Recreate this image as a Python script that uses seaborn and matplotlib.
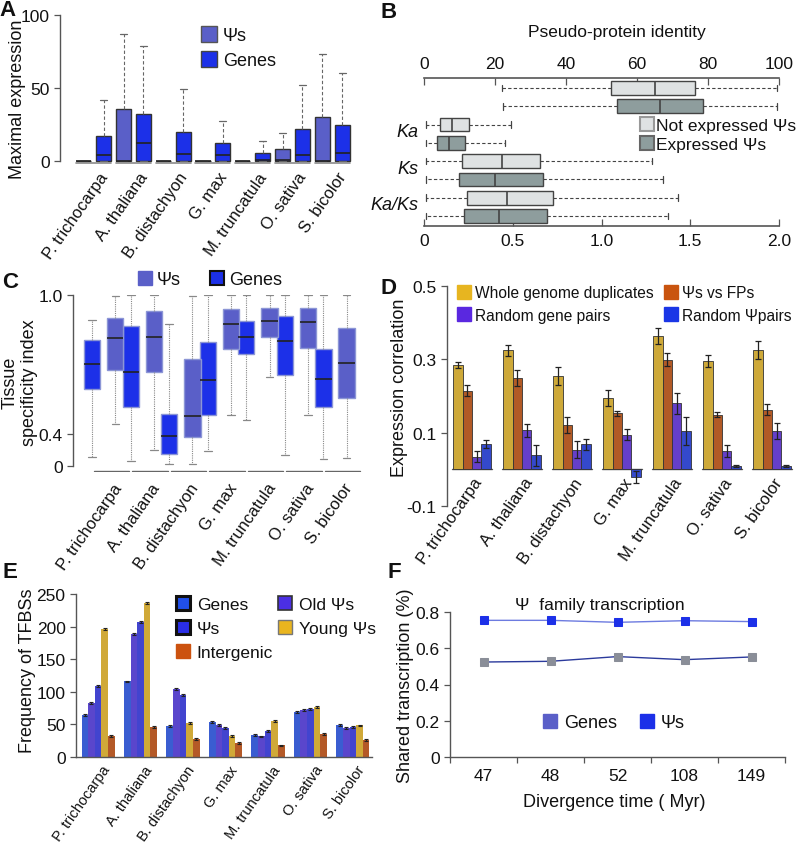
import numpy as np
import pandas as pd
import matplotlib
matplotlib.use('Agg')
import matplotlib.pyplot as plt
import matplotlib.transforms as mtransforms
from matplotlib.lines import Line2D
import seaborn as sns

species = ['P. trichocarpa', 'A. thaliana', 'B. distachyon', 'G. max',
           'M. truncatula', 'O. sativa', 'S. bicolor']

# A: maximal expression, box stats as (whislo, q1, median, q3, whishi)
a_psi = [[0, 0, 0, 0, 0], [0, 0, 0, 35.5, 87], [0, 0, 0, 0, 0], [0, 0, 0, 0, 0],
         [0, 0, 0, 0, 0], [0, 0, 0.4, 8.5, 19.5], [0, 0, 0, 30, 73]]
a_gene = [[0, 0, 4, 17, 41.5], [0, 0, 12.6, 32, 79], [0, 0, 4.6, 20, 49],
          [0, 0, 4, 12, 27.5], [0, 0, 0.5, 5.7, 13.7], [0, 0, 4, 21.7, 52.4],
          [0, 0, 5.7, 25, 60.6]]

# B: pseudo-protein identity (top scale) and Ka, Ks, Ka/Ks (bottom scale)
b_rows = ['Ka', 'Ks', 'Ka/Ks']
b_ident_not = [21.9, 52.8, 65.2, 76.3, 99.3]
b_ident_exp = [22.2, 54.5, 66.5, 78.5, 99.3]
b_not = [[0.01, 0.09, 0.16, 0.255, 0.49], [0.01, 0.214, 0.438, 0.654, 1.285],
         [0.01, 0.244, 0.466, 0.729, 1.433]]
b_exp = [[0.01, 0.073, 0.143, 0.231, 0.456], [0.01, 0.199, 0.398, 0.672, 1.348],
         [0.01, 0.227, 0.421, 0.691, 1.377]]

# C: tissue specificity index (axis as drawn in the original)
c_yticks = [0, 0.186, 1.0]
c_yticklabels = ['0', '0.4', '1.0']
c_gene = [[0.055, 0.449, 0.596, 0.736, 0.855], [0.03, 0.346, 0.547, 0.816, 1.0],
          [0.01, 0.068, 0.176, 0.303, 0.83], [0.09, 0.297, 0.504, 0.723, 1.0],
          [0.271, 0.656, 0.756, 0.846, 1.0], [0.0625, 0.535, 0.732, 0.875, 1.0],
          [0.043, 0.344, 0.506, 0.684, 1.0]]
c_psi = [[0.248, 0.561, 0.75, 0.863, 0.992], [0.094, 0.547, 0.756, 0.906, 1.0],
         [0.014, 0.17, 0.291, 0.623, 0.996], [0.297, 0.684, 0.83, 0.916, 1.0],
         [0.518, 0.756, 0.85, 0.926, 1.0], [0.297, 0.693, 0.84, 0.922, 1.0],
         [0.047, 0.4, 0.6, 0.805, 1.0]]

# D: expression correlation
d_series = ['Whole genome duplicates', 'Ψs vs FPs', 'Random gene pairs', 'Random Ψpairs']
d_wgd = [0.285, 0.325, 0.255, 0.195, 0.364, 0.295, 0.325]
d_wgd_err = [0.008, 0.015, 0.025, 0.022, 0.021, 0.016, 0.024]
d_fp = [0.215, 0.25, 0.121, 0.153, 0.299, 0.149, 0.162]
d_fp_err = [0.015, 0.022, 0.021, 0.007, 0.017, 0.007, 0.015]
d_rgp = [0.035, 0.106, 0.054, 0.095, 0.18, 0.051, 0.105]
d_rgp_err = [0.015, 0.017, 0.024, 0.015, 0.028, 0.016, 0.022]
d_rpp = [0.069, 0.038, 0.069, -0.02, 0.105, 0.009, 0.009]
d_rpp_err = [0.011, 0.029, 0.015, 0.016, 0.039, 0.003, 0.003]

# E: frequency of TFBSs
e_series = ['Genes', 'Old Ψs', 'Ψs', 'Young Ψs', 'Intergenic']
e_genes = [64.8, 115.8, 47, 54, 34, 68.9, 49.5]
e_old = [82.7, 188.8, 103.6, 49.5, 31.6, 72, 44.4]
e_psi = [109, 207.6, 95.4, 45, 39.8, 74, 46]
e_young = [196, 236.7, 52.6, 32.6, 55, 76, 48.5]
e_inter = [32.6, 45.9, 28, 21.4, 17.9, 34.7, 26.5]
e_err = [1.5, 1.5, 1.5, 1.5, 1.2, 1.5, 1.2]

# F: shared transcription
f_times = ['47', '48', '52', '108', '149']
f_genes = [0.524, 0.528, 0.554, 0.537, 0.552]
f_psi = [0.754, 0.754, 0.743, 0.752, 0.747]

PSI = '#5a5fc8'
GENE = '#1c30e8'
NOT_C = '#dfe2e3'
EXP_C = '#8e9d9d'
D_COLORS = ['#e7b520', '#c9540f', '#5a28e0', '#1a36e6']
E_COLORS = ['#2150ea', '#4b2fe3', '#2a2ee6', '#e9b51f', '#cc520f']

sns.set_theme(style='ticks')
plt.rcParams['font.family'] = ['Liberation Sans', 'DejaVu Sans']
plt.rcParams['text.color'] = '#111'

W, H = 800, 845
fig = plt.figure(figsize=(8, 8.45), dpi=100)


def rect(l, t, r, b):
    return [l / W, 1 - b / H, (r - l) / W, (b - t) / H]


def fx(x):
    return x / W


def fy(y):
    return 1 - y / H


def style(ax, left=True, bottom=True):
    for s in ['top', 'right']:
        ax.spines[s].set_visible(False)
    ax.spines['left'].set_visible(left)
    ax.spines['bottom'].set_visible(bottom)
    for s in ax.spines.values():
        s.set_color('#555')
        s.set_linewidth(1)
    ax.tick_params(colors='#555', labelcolor='#111', labelsize=12.5, length=4, width=0.9)
    ax.set_xlabel('')
    ax.set_ylabel('')


def draw_boxes(ax, rows, pos, color, edge, width, capw, wcolor, wls, orient='vertical', medc='#222'):
    stats = [dict(whislo=r[0], q1=r[1], med=r[2], q3=r[3], whishi=r[4], fliers=[]) for r in rows]
    ax.bxp(stats, positions=pos, widths=width, capwidths=capw, patch_artist=True,
           showfliers=False, manage_ticks=False, orientation=orient,
           boxprops=dict(facecolor=color, edgecolor=edge, linewidth=1),
           medianprops=dict(color=medc, linewidth=1.2),
           whiskerprops=dict(color=wcolor, linestyle=wls, linewidth=0.8),
           capprops=dict(color=wcolor, linewidth=0.9))


def sq(color, edge=None, ms=10, mew=1.0):
    return Line2D([], [], marker='s', ls='none', ms=ms, mfc=color,
                  mec=edge if edge else color, mew=mew)


def legend(handles, labels, x, y, fs, ncol=1, colsp=1.0, lsp=0.3, tpad=0.3):
    fig.legend(handles, labels, loc='upper left', bbox_to_anchor=(fx(x), fy(y)),
               ncol=ncol, frameon=False, fontsize=fs, borderpad=0, borderaxespad=0,
               handlelength=0.8, handletextpad=tpad, columnspacing=colsp, labelspacing=lsp)


def species_labels(ax, pos, pad, fs=12):
    ax.set_xticks(pos)
    ax.set_xticklabels(species, rotation=55, ha='right', rotation_mode='anchor', fontsize=fs)
    ax.tick_params(axis='x', length=0, pad=pad)


def add_errors(ax, errs, nseries, **kw):
    conts = list(ax.containers)[:nseries]
    for cont, err in zip(conts, errs):
        xs = [b.get_x() + b.get_width() / 2 for b in cont]
        ax.errorbar(xs, cont.datavalues, yerr=err, fmt='none', ecolor='#222', **kw)


pos = np.arange(len(species))

# ---------------- A ----------------
axA = fig.add_axes(rect(60, 16, 358, 166.4))
draw_boxes(axA, a_psi, pos - 0.25, PSI, '#333', 0.38, 0.18, '#666', (0, (3, 2)))
draw_boxes(axA, a_gene, pos + 0.25, GENE, '#333', 0.38, 0.18, '#666', (0, (3, 2)))
for p in pos:
    axA.plot([p - 0.44, p + 0.44], [-1.6, -1.6], color='#8a8a8a', lw=1.2)
axA.set_xlim(-0.85, 6.65)
axA.set_ylim(-3, 100)
style(axA, bottom=False)
axA.spines['left'].set_bounds(0, 100)
axA.set_yticks([0, 50, 100])
species_labels(axA, pos + 0.12, 3)
fig.text(fx(18), fy(99), 'Maximal expression', rotation=90, ha='center', va='center', fontsize=13)
legend([sq(PSI, '#555', 11), sq(GENE, '#444', 11)], ['Ψs', 'Genes'], 202, 28, 13, lsp=0.45, tpad=0.35)

# ---------------- B ----------------
axB = fig.add_axes(rect(424, 79, 779, 227))
axBt = axB.twiny()
draw_boxes(axBt, [b_ident_not], [0], NOT_C, '#444', 0.75, 0.35, '#444', (0, (3, 2)), 'horizontal', '#444')
draw_boxes(axBt, [b_ident_exp], [1], EXP_C, '#444', 0.75, 0.35, '#444', (0, (3, 2)), 'horizontal', '#444')
rows_not = np.arange(len(b_rows)) * 2 + 2
rows_exp = rows_not + 1
draw_boxes(axB, b_not, rows_not, NOT_C, '#444', 0.75, 0.35, '#444', (0, (3, 2)), 'horizontal', '#444')
draw_boxes(axB, b_exp, rows_exp, EXP_C, '#444', 0.75, 0.35, '#444', (0, (3, 2)), 'horizontal', '#444')
axB.set_xlim(0, 2)
axBt.set_xlim(0, 100)
axB.set_ylim(7.55, -0.55)
for a in (axB, axBt):
    for s in a.spines.values():
        s.set_visible(False)
        s.set_color('#555')
        s.set_linewidth(1.2)
    a.tick_params(left=False, labelleft=False, right=False, labelright=False,
                  colors='#555', labelcolor='#111', labelsize=12.5, length=5, width=0.9)
axB.spines['bottom'].set_visible(True)
axBt.spines['top'].set_visible(True)
axB.set_xticks([0, 0.5, 1.0, 1.5, 2.0], ['0', '0.5', '1.0', '1.5', '2.0'])
axB.tick_params(axis='x', direction='in', pad=5)
axBt.set_xticks([0, 20, 40, 60, 80, 100])
axBt.tick_params(axis='x', direction='in', pad=5)
blend = mtransforms.blended_transform_factory(axB.transAxes, axB.transData)
for name, a, b in zip(b_rows, rows_not, rows_exp):
    axB.text(-0.015, (a + b) / 2 - 0.1, name, transform=blend, ha='right', va='center',
             fontsize=13, style='italic')
fig.text(fx(617), fy(33), 'Pseudo-protein identity', ha='center', va='center', fontsize=12.5)
legend([sq(NOT_C, '#999', 10, 1.5), sq(EXP_C, '#666', 10, 1.5)],
       ['Not expressed Ψs', 'Expressed Ψs'], 640, 119, 12.5, lsp=0.2, tpad=0.15)

# ---------------- C ----------------
axC = fig.add_axes(rect(73, 296, 362, 473))
draw_boxes(axC, c_gene, pos - 0.3, GENE, '#8c96d6', 0.42, 0.2, '#888', (0, (1, 1)))
draw_boxes(axC, c_psi, pos + 0.3, PSI, '#8c96d6', 0.42, 0.2, '#888', (0, (1, 1)))
for p in pos:
    axC.plot([p - 0.26, p + 0.66], [-0.028, -0.028], color='#666', lw=1)
axC.set_xlim(-0.8, 6.7)
axC.set_ylim(-0.035, 1.0)
style(axC, bottom=False)
axC.spines['left'].set_bounds(0, 1.0)
axC.set_yticks(c_yticks, c_yticklabels)
species_labels(axC, pos + 0.22, 6)
fig.text(fx(20), fy(383), 'Tissue\nspecificity index', rotation=90, ha='center', va='center',
         fontsize=13, multialignment='center', linespacing=1.2)
legend([sq(PSI, PSI, 10), sq(GENE, '#111', 10, 1.5)], ['Ψs', 'Genes'], 138, 272, 13,
       ncol=2, colsp=1.6, tpad=0.25)

# ---------------- D ----------------
axD = fig.add_axes(rect(447, 287, 797, 507))
d_vals = [d_wgd, d_fp, d_rgp, d_rpp]
d_errs = [d_wgd_err, d_fp_err, d_rgp_err, d_rpp_err]
dfD = pd.DataFrame({
    'species': np.tile(species, len(d_series)),
    'series': np.repeat(d_series, len(species)),
    'value': np.concatenate(d_vals),
})
sns.barplot(data=dfD, x='species', y='value', hue='series', hue_order=d_series,
            palette=dict(zip(d_series, D_COLORS)), order=species, width=0.75,
            errorbar=None, edgecolor='#333', linewidth=0.6, legend=False, ax=axD)
add_errors(axD, d_errs, len(d_series), elinewidth=0.9, capsize=2, capthick=0.9)
for p in pos:
    axD.plot([p - 0.4, p + 0.4], [0, 0], color='#555', lw=1, zorder=0.5)
axD.set_xlim(-0.5, 6.5)
axD.set_ylim(-0.1, 0.5)
style(axD)
axD.spines['bottom'].set_position(('data', 0))
axD.spines['bottom'].set_visible(False)
axD.set_yticks([-0.1, 0.1, 0.3, 0.5], ['-0.1', '0.1', '0.3', '0.5'])
species_labels(axD, pos + 0.02, 4)
fig.text(fx(400), fy(388), 'Expression correlation', rotation=90, ha='center', va='center', fontsize=13)
legend([sq(c, c, 9.5) for c in [D_COLORS[0], D_COLORS[2], D_COLORS[1], D_COLORS[3]]],
       [d_series[0], d_series[2], d_series[1], d_series[3]], 458, 286, 11.2,
       ncol=2, colsp=0.7, lsp=0.5, tpad=0.3)

# ---------------- E ----------------
axE = fig.add_axes(rect(76, 595, 372, 758))
e_vals = [e_genes, e_old, e_psi, e_young, e_inter]
dfE = pd.DataFrame({
    'species': np.tile(species, len(e_series)),
    'series': np.repeat(e_series, len(species)),
    'value': np.concatenate(e_vals),
})
sns.barplot(data=dfE, x='species', y='value', hue='series', hue_order=e_series,
            palette=dict(zip(e_series, E_COLORS)), order=species, width=0.78,
            errorbar=None, linewidth=0, legend=False, ax=axE)
add_errors(axE, [e_err] * len(e_series), len(e_series), elinewidth=0.8, capsize=1.5, capthick=0.8)
axE.set_xlim(-0.52, 6.45)
axE.set_ylim(0, 250)
style(axE)
axE.set_yticks([0, 50, 100, 150, 200, 250])
species_labels(axE, pos + 0.08, 4, fs=10.5)
fig.text(fx(28), fy(671), 'Frequency of TFBSs', rotation=90, ha='center', va='center', fontsize=13)
legend([sq(E_COLORS[0], '#111', 10, 2.2), sq(E_COLORS[2], '#111', 10, 2.2), sq(E_COLORS[4], E_COLORS[4], 10),
        sq(E_COLORS[1], '#333', 10, 1.2), sq(E_COLORS[3], '#777', 10, 1)],
       ['Genes', 'Ψs', 'Intergenic', 'Old Ψs', 'Young Ψs'], 176, 598, 12.5,
       ncol=2, colsp=0.3, lsp=0.5, tpad=0.4)

# ---------------- F ----------------
axF = fig.add_axes(rect(450, 613, 785, 758))
fpos = np.arange(len(f_times))
sns.lineplot(x=fpos, y=f_genes, ax=axF, color='#2b3a9c', lw=1, marker='s', ms=6,
             mfc='#8a8e98', mec='#8a8e98')
sns.lineplot(x=fpos, y=f_psi, ax=axF, color='#6d7be0', lw=1, marker='s', ms=6,
             mfc=GENE, mec=GENE)
axF.set_xlim(-0.5, 4.5)
axF.set_ylim(0, 0.8)
style(axF)
axF.set_yticks([0, 0.2, 0.4, 0.6, 0.8], ['0', '0.2', '0.4', '0.6', '0.8'])
axF.set_xticks(fpos, f_times)
axF.set_xticks(np.arange(len(f_times) + 1) - 0.5, minor=True)
axF.tick_params(axis='x', which='major', length=0, pad=8)
axF.tick_params(axis='x', which='minor', length=4, width=0.9, colors='#555')
axF.text(0.448, 1.05, 'Ψ  family transcription', transform=axF.transAxes, ha='center',
         va='center', fontsize=12.5)
fig.text(fx(614), fy(803), 'Divergence time ( Myr)', ha='center', va='center', fontsize=13)
fig.text(fx(405), fy(686), 'Shared transcription (%)', rotation=90, ha='center', va='center', fontsize=13)
legend([sq(PSI, PSI, 10), sq(GENE, GENE, 10)], ['Genes', 'Ψs'], 543, 715, 13,
       ncol=2, colsp=1.3, tpad=0.35)

# panel letters
for letter, x, y in [('A', 8, 11), ('B', 389, 12), ('C', 10, 282), ('D', 388, 289),
                     ('E', 10, 572), ('F', 394, 572)]:
    fig.text(fx(x), fy(y), letter, ha='center', va='center', fontsize=16, fontweight='bold')

fig.savefig('out.png', dpi=100)
